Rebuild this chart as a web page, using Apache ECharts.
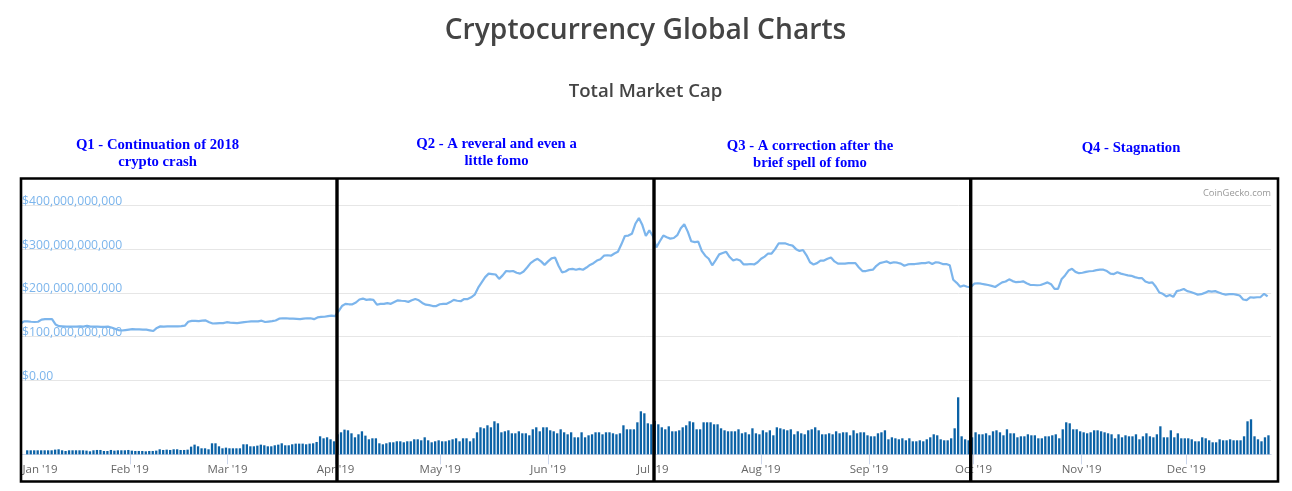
<!DOCTYPE html>
<html>
<head>
<meta charset="utf-8">
<title>Cryptocurrency Global Charts</title>
<style>
  html, body { margin: 0; padding: 0; background: #fff; }
  #main { width: 1292px; height: 491px; }
</style>
<script src="https://cdn.jsdelivr.net/npm/echarts@6/dist/echarts.min.js"></script>
</head>
<body>
<div id="main"></div>
<script>
// total market cap, $ billions, one value per day from 1 Jan 2019
var capQ1 = [130,135,135,134,133.5,134,139,140,140,140,128,124,123.5,123,123,123,123,123.5,123,125,
  123,123,123,122.5,122.5,123,121,118,115,114,115,116,117,116.5,116.5,116,116,114.5,113,120,
  123.5,123,123.5,123.5,123.5,123.5,124,125,134,136,136,135.5,136.5,137,133,130,130.5,131,131,133,
  132,131.5,131,132,133,134,135,135,135,136.5,133.5,134.5,135.5,137,141,142,142,141,141,140.5,
  140,141,142,142,140,144,145,145.5,147,148];
var capQ2 = [147,158,170,175,174,174,178,185,187,184,185,184,173,175,175,176.5,175,179,183,182,
  181.5,179.5,183,186,183,177,173,172,170,170,174,175,175,179,184,182,181,186,186,190,
  196,212,224,236,244,243,242,232,240,250,249,250,246,244,249,258,268,274,278,272,
  264,272,279,281,262,247,249,254,255,253,255,253,258,264,268,274,277,285,286,285,
  290,294,311,330,331,335,358,371,355,330,343];
var capQ3 = [330,304,318,331,327,324,325.5,332,348,357,340,318,316,317,296,285,278,263,275,288,
  291,294,282,274,277,274,265,265,266,265,270,278,283,290,290,300,313,313,313,310,
  308,300,296,298,286,270,265,268,274,274,278,281,272,267,267,267,268,268,268,258,
  250,250,252,253,262,268,270,272,268,270,269,267,262,265,266,266,267,268,268,270,
  266,270,269,266,266,263,230,223,214,217,214,213];
var capQ4 = [221,222,221,219.5,218,216,213.5,219,224,226,231,227,224.5,225,226.5,222,218.5,218,217.5,218,
  221,224,220,209,209,231,240,251,255,248,245,246,248,249.5,250,252,253,253,250,244,
  243,247,244,242,240,239,236,234,234,226,223,224,214,201,198,192,195,191,204,206,
  209,204,202,199,196,197,200,204,203,204,201,198,196,197,197.5,196,194,185,183.5,190,
  189,190,190.5,198,192];

// volume bars, in the same relative $ billions, one bar per day
var volQ1 = [12,12,12,12,12,12,12,12,14,15,12,10,12,12,12,12,12,11,9,12,
  13,13,10,10,13,11,12,12,12,13,11,10,10,10,9,10,10,11,15,13,
  14,13,15,15,13,13,14,23,29,24,18,18,15,33,33,24,18,20,18,18,
  18,18,30,30,24,24,26,29,27,24,24,27,29,33,27,27,30,32,32,32,
  30,32,33,37,54,48,51,45,39];
var volQ2 = [60,66,74,72,63,51,60,69,56,45,48,48,33,30,33,36,36,39,39,36,39,
  39,45,45,42,51,42,36,39,42,39,39,42,45,48,39,48,48,39,48,66,
  81,78,87,81,99,93,66,69,72,63,63,69,63,63,57,75,81,69,81,81,
  72,69,63,75,66,60,66,51,51,66,51,57,60,66,66,60,66,66,63,60,
  63,87,75,75,75,96,129,123,93,90,100];
var volQ3 = [90,81,75,84,69,69,72,81,87,99,96,75,75,96,96,96,90,90,78,72,
  69,69,69,75,63,66,60,78,63,60,72,66,72,57,81,78,75,72,75,60,
  69,63,60,72,75,81,72,60,60,63,60,69,63,66,66,57,72,63,66,66,
  57,54,54,63,66,72,45,51,48,45,48,42,48,39,39,42,39,45,51,60,
  57,45,42,42,48,78,171,54,45,42,51];
var volQ4 = [66,60,60,63,57,69,72,66,57,75,63,63,51,54,54,60,57,57,48,48,
  54,54,57,60,48,75,96,93,75,75,69,66,63,66,72,72,69,66,63,60,
  48,60,51,57,54,54,60,45,54,63,54,51,60,84,51,51,72,51,63,48,
  48,48,45,39,39,51,48,42,36,36,45,42,42,45,42,42,42,54,99,105,
  54,45,39,51,57];

var quarterNotes = [
  'Q1 - Continuation of 2018\ncrypto crash',
  'Q2 - A reveral and even a\nlittle fomo',
  'Q3 - A correction after the\nbrief spell of fomo',
  'Q4 - Stagnation'
];
var noteCenters = [157.5, 496.5, 810, 1131];
var noteTops = [137, 136, 138, 140];
var dividers = [335.3, 652.3, 969];

var DAY = 86400000;
var start = Date.UTC(2019, 0, 1);
var axisEnd = start + 358 * DAY;
var volOffset = 1.57 * DAY; // columns sit a bit right of the line points

var capData = capQ1.concat(capQ2, capQ3, capQ4).map(function (v, i) {
  return [start + i * DAY, v];
});
var volData = volQ1.concat(volQ2, volQ3, volQ4).map(function (v, i) {
  return [start + volOffset + i * DAY, v];
});

var titles = [
  { text: 'Cryptocurrency Global Charts', left: 645.5, top: 17, textAlign: 'center', padding: 0,
    textStyle: { fontFamily: 'Open Sans', fontSize: 28.2, fontWeight: 600, color: '#444' } },
  { text: 'Total Market Cap', left: 645.5, top: 82, textAlign: 'center', padding: 0,
    textStyle: { fontFamily: 'Open Sans', fontSize: 18.6, fontWeight: 600, color: '#444' } },
  { text: 'CoinGecko.com', left: 1271, top: 189, textAlign: 'right', padding: 0,
    textStyle: { fontFamily: 'Open Sans', fontSize: 9.4, fontWeight: 'normal', color: '#999' } }
];
quarterNotes.forEach(function (note, i) {
  titles.push({
    text: note, left: noteCenters[i], top: noteTops[i], textAlign: 'center', padding: 0,
    textStyle: { fontFamily: 'Liberation Serif', fontSize: 14.7, fontWeight: 'bold', color: '#0000ff', lineHeight: 17 }
  });
});

var shapes = [{
  type: 'rect', z: 100, silent: true,
  shape: { x: 21, y: 178.5, width: 1257, height: 303 },
  style: { fill: 'none', stroke: '#000', lineWidth: 2.6 }
}];
dividers.forEach(function (x) {
  shapes.push({
    type: 'rect', z: 100, silent: true,
    shape: { x: x, y: 178, width: 3.4, height: 304 },
    style: { fill: '#000' }
  });
});

var chart = echarts.init(document.getElementById('main'), null, { renderer: 'canvas' });
chart.setOption({
  animation: false,
  useUTC: true,
  backgroundColor: '#fff',
  title: titles,
  graphic: shapes,
  grid: [
    { left: 20.6, width: 1250.5, top: 205.4, height: 175 },
    { left: 20.6, width: 1250.5, top: 394.3, height: 60 }
  ],
  xAxis: [
    { type: 'time', gridIndex: 0, min: start, max: axisEnd, show: false },
    {
      type: 'time', gridIndex: 1, min: start, max: axisEnd,
      minInterval: 28 * DAY,
      axisLine: { lineStyle: { color: '#ccd6eb', width: 1 } },
      axisTick: { show: true, length: 10, lineStyle: { color: '#ccd6eb', width: 1 } },
      splitLine: { show: false },
      axisLabel: {
        color: '#666', fontFamily: 'Open Sans', fontSize: 11.5, margin: 9,
        alignMinLabel: 'left', hideOverlap: false, showMinLabel: true, showMaxLabel: false,
        formatter: function (v) {
          // first label is pushed right so the frame does not swallow it
          var lead = v <= start ? '\u2009' : '';
          return lead + echarts.time.format(Math.max(v, start), "{MMM} '{yy}", true);
        }
      }
    }
  ],
  yAxis: [
    {
      type: 'value', gridIndex: 0, min: 0, max: 400, interval: 100,
      axisLine: { show: false }, axisTick: { show: false },
      splitLine: { lineStyle: { color: '#e6e6e6', width: 1 } },
      axisLabel: {
        inside: true, margin: 1.5, verticalAlign: 'bottom',
        rich: {
          tick: { color: '#7cb5ec', fontFamily: 'Open Sans', fontSize: 12.2, lineHeight: 8 }
        },
        formatter: function (v) {
          var txt = v === 0 ? '$0.00' : '$' + (v * 1e9).toLocaleString('en-US');
          return '{tick|' + txt + '}';
        }
      }
    },
    {
      type: 'value', gridIndex: 1, min: 0, max: 180,
      axisLine: { show: false }, axisTick: { show: false },
      splitLine: { show: false }, axisLabel: { show: false }
    }
  ],
  series: [
    {
      name: 'Total Market Cap', type: 'line', xAxisIndex: 0, yAxisIndex: 0, data: capData,
      showSymbol: false, symbol: 'none', lineStyle: { color: '#7cb5ec', width: 2.2 }, z: 3
    },
    {
      name: 'Volume', type: 'bar', xAxisIndex: 1, yAxisIndex: 1, data: volData,
      barWidth: 2.3, itemStyle: { color: '#0b62a6' }
    }
  ]
});
</script>
</body>
</html>
